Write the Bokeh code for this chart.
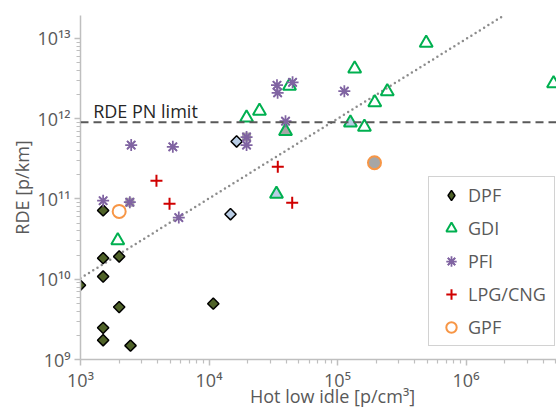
import numpy as np
from bokeh.plotting import figure
from bokeh.models import (Span, Label, Legend, LegendItem, FixedTicker,
                          CustomJSTickFormatter, Range1d)
from bokeh.embed import file_html
from bokeh.resources import INLINE

# ---------------- data ----------------
dpf_x = [1500, 1500, 2000, 1500, 990, 2000, 1500, 1500, 2450, 10800]
dpf_y = [7.2e10, 1.83e10, 1.92e10, 1.08e10, 8.4e9, 4.5e9, 2.48e9, 1.74e9, 1.49e9, 4.96e9]
dpf_blue_x = [14700, 16400]
dpf_blue_y = [6.45e10, 5.2e11]

gdi_x = [1950, 19600, 24700, 42300, 136000, 244000, 195000, 162000, 490000, 4.8e6]
gdi_y = [3.03e10, 1.03e12, 1.25e12, 2.56e12, 4.2e12, 2.18e12, 1.59e12, 7.9e11, 8.75e12, 2.74e12]
gdi_blue_x = [126000, 33500]
gdi_blue_y = [8.87e11, 1.15e11]
gdi_gray_x = [39400]
gdi_gray_y = [7.0e11]

pfi_x = [1500, 2480, 5230, 5820, 19600, 33800, 34200, 44700, 113000, 39400]
pfi_y = [9.5e10, 4.69e11, 4.46e11, 5.86e10, 4.69e11, 2.61e12, 2.1e12, 2.84e12, 2.2e12, 9.3e11]
pfi_gray_x = [2420, 19600]
pfi_gray_y = [9.1e10, 5.9e11]

lpg_x = [3900, 4930, 34300, 44400]
lpg_y = [1.69e11, 8.7e10, 2.52e11, 9.0e10]

gpf_x = [2000]
gpf_y = [7.0e10]
gpf_gray_x = [194000]
gpf_gray_y = [2.83e11]

trend_x = [1000, 1.97e6]
trend_y = [1.03e10, 1.93e13]

pn_limit = 9e11
pn_label = "RDE PN limit"
pn_label_x = 1255
pn_label_y = 1.24e12

x_major = [1e3, 1e4, 1e5, 1e6]
y_major = [1e9, 1e10, 1e11, 1e12, 1e13]
x_minor = [m * 10.0 ** k for k in range(3, 7) for m in range(2, 10)]
y_minor = [m * 10.0 ** k for k in range(9, 14) for m in range(2, 10)]

x_title = "Hot low idle [p/cm³]"
y_title = "RDE [p/km]"
legend_labels = ["DPF", "GDI", "PFI", "LPG/CNG", "GPF"]

# ---------------- styling ----------------
FONT = "Open Sans"
GRAY_TXT = "#595959"
AXIS_C = "#bfbfbf"
DPF_C = "#4f6228"
GDI_C = "#00b050"
PFI_C = "#8064a2"
LPG_C = "#d00000"
GPF_C = "#f79646"
BLUE_FILL = "#b9cde5"
GRAY_FILL = "#a6a6a6"
X_TITLE_PAD = "\u00a0" * 6   # nudges the centred x title to the right, as in the reference

p = figure(width=556, height=410, x_axis_type="log", y_axis_type="log",
           x_range=Range1d(1e3, 5.06e6), y_range=Range1d(1e9, 1.93e13),
           output_backend="svg", toolbar_location=None,
           min_border_left=80, min_border_right=0, min_border_top=15,
           min_border_bottom=40)
p.grid.visible = False
p.outline_line_color = None
p.background_fill_color = "white"
p.border_fill_color = "white"

sup_js = """
const sup = {"0":"\u2070","1":"\u00b9","2":"\u00b2","3":"\u00b3","4":"\u2074",
             "5":"\u2075","6":"\u2076","7":"\u2077","8":"\u2078","9":"\u2079"};
const e = Math.round(Math.log10(tick));
return "10" + String(e).split("").map(c => sup[c]).join("");
"""

for ax, major, minor, title in [(p.xaxis[0], x_major, x_minor, X_TITLE_PAD + x_title),
                                (p.yaxis[0], y_major, y_minor, y_title)]:
    ax.ticker = FixedTicker(ticks=major, minor_ticks=minor)
    ax.formatter = CustomJSTickFormatter(code=sup_js)
    ax.axis_line_color = AXIS_C
    ax.axis_line_width = 1.5
    ax.major_tick_line_color = AXIS_C
    ax.minor_tick_line_color = AXIS_C
    ax.major_tick_line_width = 1.5
    ax.minor_tick_line_width = 1.2
    ax.major_tick_in = 0
    ax.major_tick_out = 6
    ax.minor_tick_in = 0
    ax.minor_tick_out = 4
    ax.major_label_text_font = FONT
    ax.major_label_text_font_size = "18px"
    ax.major_label_text_color = GRAY_TXT
    ax.axis_label = title
    ax.axis_label_text_font = FONT
    ax.axis_label_text_font_size = "18px"
    ax.axis_label_text_font_style = "normal"
    ax.axis_label_text_color = GRAY_TXT

p.xaxis[0].major_label_standoff = 2
p.xaxis[0].axis_label_standoff = -11
p.yaxis[0].major_label_standoff = 4
p.yaxis[0].axis_label_standoff = 0

# reference lines
p.add_layout(Span(location=pn_limit, dimension="width", line_color="#595959",
                  line_width=2, line_dash="8 5"))
p.line(trend_x, trend_y, line_color="#8c8c8c", line_width=2.5,
       line_dash="0 5", line_cap="round")
p.add_layout(Label(x=pn_label_x, y=pn_label_y, text=pn_label, text_font=FONT,
                   text_font_size="18px", text_color="#262626",
                   text_baseline="alphabetic"))

# markers
p.scatter(dpf_x, dpf_y, marker="square", angle=np.pi / 4, size=8,
          fill_color=DPF_C, line_color="black", line_width=1.5)
p.scatter(dpf_blue_x, dpf_blue_y, marker="square", angle=np.pi / 4, size=8,
          fill_color=BLUE_FILL, line_color="black", line_width=1.5)
# hidden diamond renderer, used only as the DPF legend swatch
# (legend glyphs are drawn unrotated)
r_dpf_leg = p.scatter(dpf_x, dpf_y, marker="diamond", size=11, visible=False,
                      fill_color=DPF_C, line_color="black", line_width=1.5)

r_gdi = p.scatter(gdi_x, gdi_y, marker="triangle", size=13, fill_color=None,
                  line_color=GDI_C, line_width=2)
p.scatter(gdi_blue_x, gdi_blue_y, marker="triangle", size=13, fill_color=BLUE_FILL,
          line_color=GDI_C, line_width=2)
p.scatter(gdi_gray_x, gdi_gray_y, marker="triangle", size=13, fill_color=GRAY_FILL,
          line_color=GDI_C, line_width=2)

p.scatter(pfi_gray_x, pfi_gray_y, marker="square", size=9, fill_color=GRAY_FILL,
          line_color=None)
r_pfi_a = p.scatter(pfi_x + pfi_gray_x, pfi_y + pfi_gray_y, marker="asterisk",
                    size=12, line_color=PFI_C, line_width=1.75)
r_pfi_b = p.scatter(pfi_x + pfi_gray_x, pfi_y + pfi_gray_y, marker="x",
                    size=11, line_color=PFI_C, line_width=1.75)

r_lpg = p.scatter(lpg_x, lpg_y, marker="cross", size=12, line_color=LPG_C,
                  line_width=2)

r_gpf = p.scatter(gpf_x, gpf_y, marker="circle", size=13, fill_color=None,
                  line_color=GPF_C, line_width=2)
p.scatter(gpf_gray_x, gpf_gray_y, marker="circle", size=13, fill_color=GRAY_FILL,
          line_color=GPF_C, line_width=2)

legend_renderers = [[r_dpf_leg], [r_gdi], [r_pfi_a, r_pfi_b], [r_lpg], [r_gpf]]
legend = Legend(items=[LegendItem(label=lab, renderers=rs)
                       for lab, rs in zip(legend_labels, legend_renderers)],
                location=(348, 13))
legend.label_text_font = FONT
legend.label_text_font_size = "18px"
legend.label_text_color = GRAY_TXT
legend.glyph_width = 34
legend.glyph_height = 26
legend.label_height = 26
legend.label_width = 81
legend.spacing = 7
legend.padding = 5
legend.margin = 0
legend.label_standoff = -9
legend.border_line_color = "#a6a6a6"
legend.border_line_width = 1.5
legend.background_fill_color = "white"
legend.background_fill_alpha = 1.0
legend.inactive_fill_alpha = 0.0
p.add_layout(legend)

open("out.html", "w").write(file_html(p, INLINE))
